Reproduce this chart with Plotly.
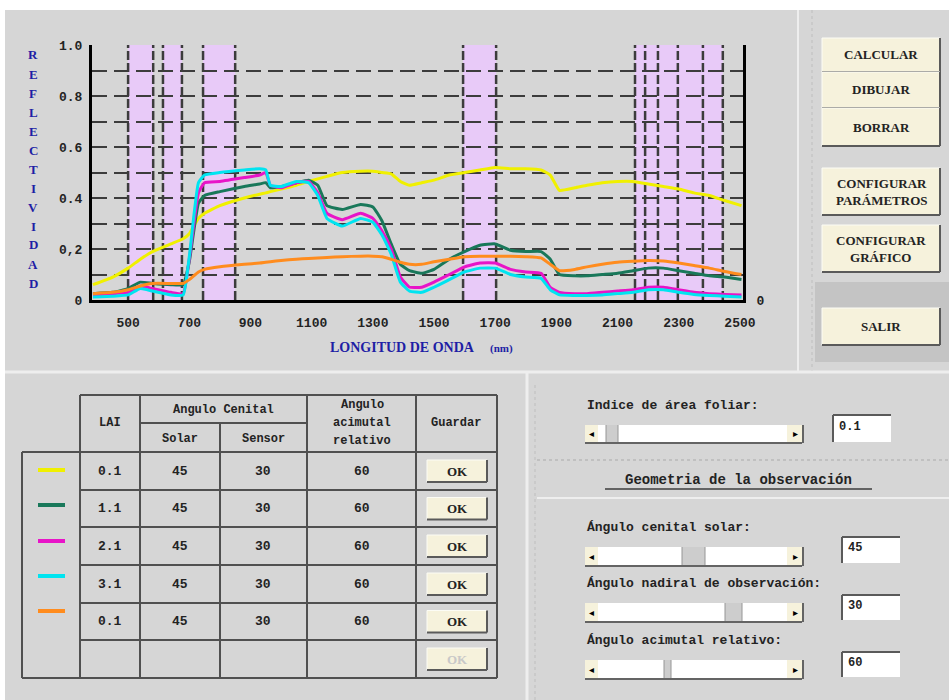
import plotly.graph_objects as go

W, H = 949, 700

# ---------------- data ----------------
wavelength = [385, 450, 500, 540, 580, 640, 680, 700, 730, 750, 800, 880, 930, 950, 965,
              1000, 1050, 1090, 1120, 1150, 1200, 1260, 1300, 1330, 1360, 1390, 1420, 1460,
              1500, 1550, 1600, 1650, 1700, 1750, 1800, 1850, 1880, 1910, 1960, 2000, 2050,
              2100, 2150, 2200, 2250, 2300, 2350, 2400, 2450, 2505]

refl_lai01 = [.06, .09, .125, .16, .19, .22, .24, .26, .32, .34, .37, .40, .415, .42, .425,
              .435, .45, .465, .475, .485, .50, .505, .505, .50, .495, .465, .45, .46,
              .47, .49, .50, .51, .52, .515, .515, .51, .49, .43, .44, .45, .46,
              .465, .465, .455, .445, .435, .42, .41, .39, .37]
refl_lai11 = [.025, .03, .045, .07, .065, .06, .06, .15, .38, .41, .425, .445, .455, .46, .44,
              .445, .46, .47, .45, .37, .355, .375, .365, .31, .22, .14, .115, .105,
              .12, .16, .19, .215, .22, .195, .19, .19, .16, .10, .095, .095, .10,
              .105, .115, .125, .125, .115, .105, .095, .09, .08]
refl_lai21 = [.02, .025, .03, .055, .045, .03, .025, .16, .42, .46, .465, .48, .49, .50, .45,
              .44, .46, .465, .42, .34, .315, .34, .32, .27, .20, .09, .05, .05,
              .07, .10, .13, .145, .145, .12, .11, .105, .05, .03, .025, .025, .03,
              .035, .04, .05, .05, .04, .03, .025, .022, .02]
refl_lai31 = [.012, .015, .02, .045, .035, .02, .02, .17, .46, .49, .50, .51, .515, .51, .45,
              .445, .465, .46, .41, .32, .29, .32, .305, .255, .18, .07, .035, .03,
              .05, .08, .11, .125, .125, .10, .09, .085, .04, .02, .018, .018, .02,
              .025, .03, .04, .04, .03, .022, .018, .015, .012]
refl_soil01 = [.025, .03, .04, .055, .065, .065, .065, .08, .11, .12, .13, .14, .145, .148, .15,
               .155, .16, .163, .165, .167, .17, .172, .172, .17, .16, .148, .14, .14,
               .15, .16, .17, .172, .172, .172, .17, .165, .14, .115, .12, .13, .14,
               .148, .152, .155, .153, .145, .135, .125, .112, .10]

series_colors = ["rgb(240,240,0)", "rgb(25,120,90)", "rgb(232,20,200)", "rgb(0,228,240)", "rgb(255,140,30)"]
series_values = [refl_lai01, refl_lai11, refl_lai21, refl_lai31, refl_soil01]

bands = [(500, 582), (614, 676), (745, 850), (1595, 1703), (2157, 2444)]
band_lines = [500, 582, 614, 676, 745, 850, 1595, 1703, 2157, 2190, 2232, 2297, 2379, 2444]

x_ticks = [500, 700, 900, 1100, 1300, 1500, 1700, 1900, 2100, 2300, 2500]
y_ticks = [0, 0.1, 0.2, 0.3, 0.4, 0.5, 0.6, 0.7, 0.8, 0.9, 1.0]
y_ticktext = ["0", "", "0,2", "", "0.4", "", "0.6", "", "0.8", "", "1.0"]

lai_col = ["0.1", "1.1", "2.1", "3.1", "0.1"]
solar_col = ["45", "45", "45", "45", "45"]
sensor_col = ["30", "30", "30", "30", "30"]
azimuth_col = ["60", "60", "60", "60", "60"]

buttons = ["CALCULAR", "DIBUJAR", "BORRAR", "CONFIGURAR<br>PARÁMETROS", "CONFIGURAR<br>GRÁFICO", "SALIR"]

# ---------------- helpers ----------------
MONO = "Liberation Mono, DejaVu Sans Mono, monospace"
SERIF = "Liberation Serif, DejaVu Serif, serif"
BG = "rgb(214,214,214)"
CREAM = "rgb(246,242,220)"
TXT = "rgb(35,35,35)"
BLUE = "rgb(30,30,165)"


def X(px):
    return px / W


def Y(py):
    return 1 - py / H


shapes = []
annotations = []


def rect(x0, y0, x1, y1, fill, lc=None, lw=0, layer="above"):
    shapes.append(dict(type="rect", xref="paper", yref="paper", x0=X(x0), x1=X(x1),
                       y0=Y(y1), y1=Y(y0), fillcolor=fill,
                       line=dict(width=lw, color=lc or fill), layer=layer))


def line(x0, y0, x1, y1, color, w, dash=None):
    d = dict(type="line", xref="paper", yref="paper", x0=X(x0), x1=X(x1),
             y0=Y(y0), y1=Y(y1), line=dict(color=color, width=w))
    if dash:
        d["line"]["dash"] = dash
    shapes.append(d)


def text(x, y, s, size=13, color=TXT, family=MONO, anchor="center", weight="bold"):
    annotations.append(dict(xref="paper", yref="paper", x=X(x), y=Y(y), text=s,
                            showarrow=False, xanchor=anchor, yanchor="middle",
                            font=dict(size=size, color=color, family=family, weight=weight)))


def button(x0, y0, x1, y1, label, color=TXT, size=13):
    rect(x0, y0, x1, y1, CREAM)
    line(x0, y0, x1, y0, "rgb(252,252,245)", 1)
    line(x0, y0, x0, y1, "rgb(252,252,245)", 1)
    line(x0, y1, x1, y1, "rgb(90,90,90)", 2)
    line(x1, y0, x1, y1, "rgb(90,90,90)", 2)
    text((x0 + x1) / 2, (y0 + y1) / 2, label, size=size, color=color, family=SERIF)


def slider(x0, x1, y0, y1, t0, t1):
    rect(x0, y0, x1, y1, "white")
    rect(x0, y0, x0 + 13, y1, CREAM)
    rect(x1 - 15, y0, x1, y1, CREAM)
    rect(t0, y0, t1, y1, "rgb(205,205,205)")
    line(t0, y0, t0, y1, "rgb(150,150,150)", 1)
    line(t1, y0, t1, y1, "rgb(150,150,150)", 1)
    line(x0, y1 + 1, x1, y1 + 1, "rgb(100,100,100)", 2)
    line(x1 + 1, y0, x1 + 1, y1 + 1, "rgb(100,100,100)", 2)
    text(x0 + 6, (y0 + y1) / 2, "◂", size=10, color="black", family="DejaVu Sans")
    text(x1 - 7, (y0 + y1) / 2, "▸", size=10, color="black", family="DejaVu Sans")


def valbox(x0, y0, x1, y1, s):
    rect(x0, y0, x1, y1, "white")
    line(x0, y0, x1, y0, "rgb(90,90,90)", 2)
    line(x0, y0, x0, y1, "rgb(90,90,90)", 2)
    text(x0 + 4, (y0 + y1) / 2 - 2, s, size=12, anchor="left")


# ---------------- chart ----------------
fig = go.Figure()
for vals, col in zip(series_values, series_colors):
    fig.add_trace(go.Scatter(x=wavelength, y=vals, mode="lines",
                             line=dict(color=col, width=3, shape="spline", smoothing=0.4),
                             hoverinfo="skip", showlegend=False))
fig.add_trace(go.Scatter(x=[wavelength[0]], y=[0], yaxis="y2", mode="markers",
                         marker=dict(opacity=0), showlegend=False, hoverinfo="skip"))

for b0, b1 in bands:
    shapes.append(dict(type="rect", xref="x", yref="y", x0=b0, x1=b1, y0=0, y1=1.0,
                       fillcolor="rgb(232,202,248)", line=dict(width=0), layer="below"))
for bl in band_lines:
    shapes.append(dict(type="line", xref="x", yref="y", x0=bl, x1=bl, y0=0, y1=1.0,
                       line=dict(color="rgb(60,60,60)", width=2.5, dash="9px,3px"), layer="below"))

# axis titles
for i, ch in enumerate("REFLECTIVIDAD"):
    text(33, 55 + i * 19, ch, size=13, color=BLUE, family=SERIF)
text(328, 347, "LONGITUD DE ONDA", size=14, color=BLUE, family=SERIF, anchor="left")
text(488, 348, "(nm)", size=11, color=BLUE, family=SERIF, anchor="left")

# ---------------- frame / panels ----------------
rect(0, 0, W, 10, "white")
rect(0, 0, 5, H, "white")
line(798, 10, 798, 371, "rgb(238,238,238)", 2)
line(812, 10, 812, 371, "rgb(190,190,190)", 1, dash="dot")
line(5, 372, W, 372, "rgb(238,238,238)", 3)
line(527, 372, 527, H, "rgb(238,238,238)", 3)
line(535, 385, 535, H, "rgb(190,190,190)", 1, dash="dot")
line(537, 460, W, 460, "rgb(170,170,170)", 1, dash="dot")
line(537, 498, W, 498, "rgb(238,238,238)", 2)

# buttons panel
button(822, 38, 940, 72, buttons[0])
button(822, 72, 940, 108, buttons[1])
button(822, 108, 940, 146, buttons[2])
button(822, 168, 940, 215, buttons[3])
button(822, 225, 940, 272, buttons[4])
rect(815, 282, W, 362, "rgb(196,196,196)")
button(822, 308, 940, 345, buttons[5])

# ---------------- table ----------------
cols = [80, 140, 220, 307, 416, 497]
rows = [452, 490, 527, 565, 603, 640, 678]
TL = "rgb(80,80,80)"
line(80, 395, 497, 395, TL, 2)
for c in [80, 140, 307, 416, 497]:
    line(c, 395, c, 678, TL, 2)
line(220, 423, 220, 678, TL, 2)
line(140, 423, 307, 423, TL, 2)
line(22, 452, 22, 678, TL, 2)
line(22, 452, 497, 452, TL, 2)
line(22, 678, 497, 678, TL, 2)
for r in rows[1:-1]:
    line(80, r, 497, r, TL, 2)

text(110, 423, "LAI", size=12)
text(223, 410, "Angulo Cenital", size=12)
text(180, 439, "Solar", size=12)
text(263, 439, "Sensor", size=12)
text(362, 405, "Angulo", size=12)
text(362, 423, "acimutal", size=12)
text(362, 441, "relativo", size=12)
text(456, 423, "Guardar", size=12)

legend_y = [470, 505, 541, 576, 611]
for i in range(5):
    cy = (rows[i] + rows[i + 1]) / 2
    line(38, legend_y[i], 65, legend_y[i], series_colors[i], 4)
    text(110, cy, lai_col[i], size=13)
    text(180, cy, solar_col[i], size=13)
    text(263, cy, sensor_col[i], size=13)
    text(362, cy, azimuth_col[i], size=13)
    button(427, cy - 11, 487, cy + 11, "OK", color=TXT, size=13)
cy = (rows[5] + rows[6]) / 2
button(427, cy - 11, 487, cy + 11, "OK", color="rgb(200,200,200)", size=13)

# ---------------- right panel ----------------
text(585, 405, "Indice de área foliar:", size=13, anchor="left")
slider(585, 802, 425, 442, 606, 618)
valbox(833, 415, 891, 442, "0.1")

text(738, 480, "Geometria de la observación", size=14)
line(605, 489, 872, 489, "rgb(60,60,60)", 1.5)

text(585, 527, "Ángulo cenital solar:", size=13, anchor="left")
slider(585, 802, 547, 565, 682, 705)
valbox(842, 537, 900, 563, "45")

text(585, 583, "Ángulo nadiral de observación:", size=13, anchor="left")
slider(585, 802, 603, 621, 725, 742)
valbox(842, 595, 900, 620, "30")

text(585, 640, "Ángulo acimutal relativo:", size=13, anchor="left")
slider(585, 802, 660, 678, 664, 671)
valbox(842, 652, 900, 677, "60")

# ---------------- layout ----------------
fig.update_layout(
    template="none",
    width=W, height=H, autosize=False,
    margin=dict(l=0, r=0, t=0, b=0, pad=0),
    paper_bgcolor=BG, plot_bgcolor=BG,
    showlegend=False,
    shapes=shapes, annotations=annotations,
    xaxis=dict(domain=[X(92), X(743)], range=[382, 2510], tickvals=x_ticks,
               showgrid=False, zeroline=False, showline=True, linecolor="black", linewidth=3,
               ticks="", ticklabelstandoff=8,
               tickfont=dict(family=MONO, size=13, color=TXT, weight="bold")),
    yaxis=dict(domain=[Y(300), Y(45)], range=[0, 1.0], tickvals=y_ticks, ticktext=y_ticktext,
               showgrid=True, gridcolor="rgb(60,60,60)", gridwidth=2, griddash="15px,7px",
               zeroline=False, showline=True, linecolor="black", linewidth=3, ticks="",
               ticklabelstandoff=4,
               tickfont=dict(family=MONO, size=13, color=TXT, weight="bold")),
    yaxis2=dict(overlaying="y", side="right", range=[0, 1.0], tickvals=[0], ticktext=["0"],
                showgrid=False, zeroline=False, showline=True, linecolor="black", linewidth=3,
                ticks="", ticklabelstandoff=8,
                tickfont=dict(family=MONO, size=13, color=TXT, weight="bold")),
)

fig.write_html("out.html", config={"displayModeBar": False},
               post_script="document.body.style.margin='0px';")
